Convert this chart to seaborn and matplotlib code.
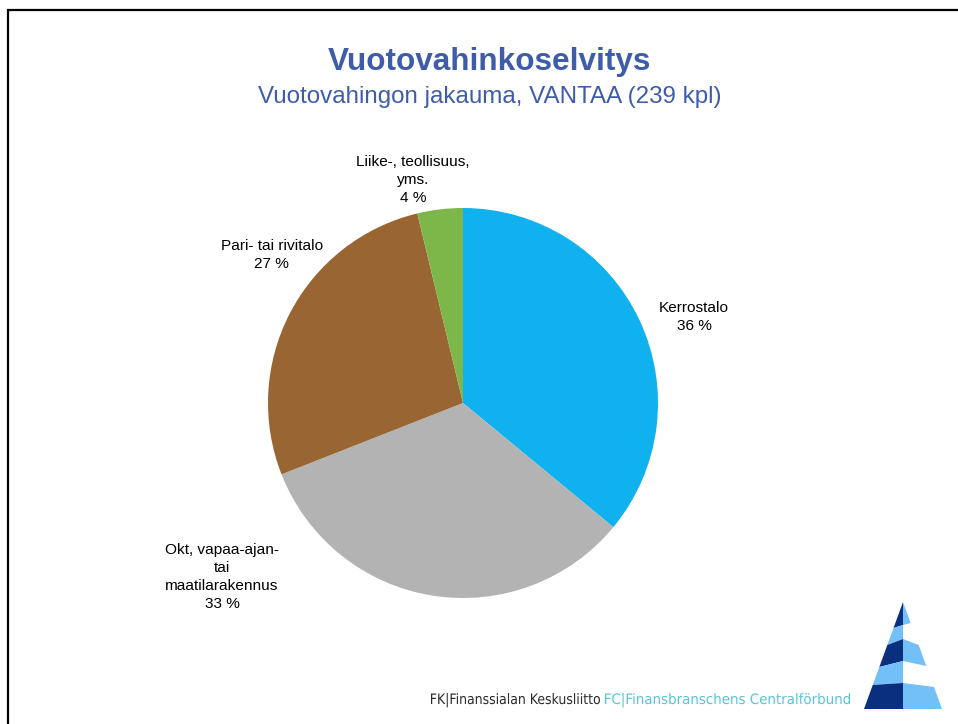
import matplotlib
matplotlib.use("Agg")
import matplotlib.pyplot as plt
from matplotlib.patches import Polygon, PathPatch
from matplotlib.textpath import TextPath
from matplotlib.font_manager import FontProperties
from matplotlib.transforms import Affine2D
import seaborn as sns

# --- data -------------------------------------------------------------
categories = [
    "Kerrostalo",
    "Okt, vapaa-ajan-\ntai\nmaatilarakennus",
    "Pari- tai rivitalo",
    "Liike-, teollisuus,\nyms.",
]
counts = [86, 79, 65, 9]
total = 239
slice_colors = ["#0FB1EF", "#B3B3B3", "#996633", "#7DB74A"]

title = "Vuotovahinkoselvitys"
subtitle = f"Vuotovahingon jakauma, VANTAA ({total} kpl)"
footer_fk = "FK|Finanssialan Keskusliitto"
footer_fc = "FC|Finansbranschens Centralförbund"

# label anchor points, in pie radius units
label_xy = [(1.185, 0.44), (-1.236, -0.892), (-0.98, 0.757), (-0.256, 1.145)]

# --- style ------------------------------------------------------------
sns.set_theme(style="white")
plt.rcParams["font.family"] = ["Liberation Sans", "DejaVu Sans"]

W, H = 958, 724
fig = plt.figure(figsize=(W / 100, H / 100), dpi=100)
fig.patch.set_facecolor("white")

# pie: centre (463, 403) px, radius 195 px
cx, cy, r = 463, 403, 195
ax = fig.add_axes([(cx - r) / W, (H - cy - r) / H, 2 * r / W, 2 * r / H])
ax.pie(counts, colors=slice_colors, startangle=90, counterclock=False,
       radius=1, wedgeprops=dict(linewidth=0))
ax.set_xlim(-1, 1)
ax.set_ylim(-1, 1)
ax.set_aspect("equal")
ax.axis("off")

for name, n, (lx, ly) in zip(categories, counts, label_xy):
    pct = round(100 * n / total)
    ax.text(lx, ly, f"{name}\n{pct} %", ha="center", va="center",
            fontsize=11.1, color="black", linespacing=1.36, clip_on=False)

# overlay in pixel coordinates for title, frame, footer and logo
ov = fig.add_axes([0, 0, 1, 1], zorder=-1)
ov.set_xlim(0, W)
ov.set_ylim(H, 0)
ov.axis("off")
ov.patch.set_alpha(0)

title_blue = "#3E5CAA"
ov.text(489, 70, title, ha="center", va="baseline", fontsize=22.7,
        fontweight="bold", color=title_blue)
ov.text(490, 103, subtitle, ha="center", va="baseline", fontsize=17.4,
        color=title_blue)

# frame on the top and left edges
ov.plot([8.5, 8.5, W], [H, 9.5, 9.5], color="black", lw=1.6,
        solid_joinstyle="miter", clip_on=False)

# footer text: condensed glyph outlines fitted to their widths
foot_prop = FontProperties(family="DejaVu Sans")


def condensed_text(s, x0, baseline, width, cap_px, color):
    size = cap_px / 0.73
    tp = TextPath((0, 0), s, size=size, prop=foot_prop)
    ext = tp.get_extents()
    sx = width / ext.width
    tr = Affine2D().translate(-ext.x0, 0).scale(sx, -1).translate(x0, baseline)
    ov.add_patch(PathPatch(tp, transform=tr + ov.transData,
                           facecolor=color, edgecolor="none"))


condensed_text(footer_fk, 431, 704, 169, 10.5, "#2A2A2A")
condensed_text(footer_fc, 605, 704, 245, 10.5, "#5BC3D9")

# logo: striped pyramid
apex_x, apex_y, base_y, half = 903, 602, 709, 39
dark, light = "#0A2F7F", "#72C0F7"


def xl(y):
    return apex_x - half * (y - apex_y) / (base_y - apex_y)


def xr(y):
    return apex_x + half * (y - apex_y) / (base_y - apex_y)


bounds = [None, (628, 625, 623), (645, 639, 645), (667, 661, 666),
          (685, 683, 687), (base_y, base_y, base_y)]
left_cols = [dark, light, dark, light, dark]
right_cols = [light, None, light, None, light]
for i in range(5):
    top, bot = bounds[i], bounds[i + 1]
    if top is None:
        lp = [(apex_x, apex_y), (apex_x, bot[1]), (xl(bot[0]), bot[0])]
        rp = [(apex_x, apex_y), (apex_x, bot[1]), (xr(bot[2]), bot[2])]
    else:
        lp = [(xl(top[0]), top[0]), (apex_x, top[1]), (apex_x, bot[1]), (xl(bot[0]), bot[0])]
        rp = [(xr(top[2]), top[2]), (apex_x, top[1]), (apex_x, bot[1]), (xr(bot[2]), bot[2])]
    ov.add_patch(Polygon(lp, closed=True, facecolor=left_cols[i], edgecolor="none"))
    if right_cols[i] is not None:
        ov.add_patch(Polygon(rp, closed=True, facecolor=right_cols[i], edgecolor="none"))

fig.savefig("out.png", dpi=100, facecolor="white")
